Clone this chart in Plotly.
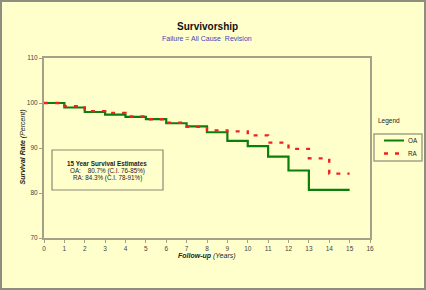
import plotly.graph_objects as go

years = list(range(0, 16))
oa_survival = [100, 99.0, 98.0, 97.4, 96.9, 96.4, 95.5, 94.8, 93.5, 91.6, 90.4, 88.1, 85.0, 80.7, 80.7, 80.7]
ra_survival = [100, 99.3, 98.2, 97.8, 97.0, 96.4, 95.6, 94.7, 93.9, 93.7, 92.8, 91.2, 89.8, 87.7, 84.3, 84.3]
x_ticks = list(range(0, 17))
y_ticks = [70, 80, 90, 100, 110]

BG = "#FFFFCC"
AXC = "#A3A288"
FONT = "Liberation Sans, Arial, sans-serif"
GREEN = "#0A7F0A"
RED = "#EE2222"

fig = go.Figure()
fig.add_trace(go.Scatter(x=years, y=oa_survival, mode="lines", name="OA",
                         line=dict(color=GREEN, width=2.2, shape="hv"), showlegend=False))
fig.add_trace(go.Scatter(x=years, y=ra_survival, mode="lines", name="RA",
                         line=dict(color=RED, width=2.4, shape="hv", dash="4px,7px"), showlegend=False))

W, H = 426, 290
L, R, T, B = 44, 56, 58, 52
pw, ph = W - L - R, H - T - B

def px(xp):
    return (xp - L) / pw

def py(yp):
    return (H - B - yp) / ph

fig.update_layout(
    width=W, height=H,
    margin=dict(l=L, r=R, t=T, b=B),
    paper_bgcolor=BG, plot_bgcolor=BG,
    font=dict(family=FONT, size=7, color="#333333"),
    xaxis=dict(range=[0, 16], tickvals=x_ticks, ticktext=[str(v) for v in x_ticks],
               showgrid=False, zeroline=False, showline=True, linecolor=AXC, linewidth=2,
               mirror=True, ticks="outside", ticklen=3, tickcolor=AXC,
               tickfont=dict(size=6.5, color="#444444")),
    yaxis=dict(range=[70, 110], tickvals=y_ticks, ticktext=[str(v) for v in y_ticks],
               showgrid=False, zeroline=False, showline=True, linecolor=AXC, linewidth=2,
               mirror=True, ticks="outside", ticklen=3, tickcolor=AXC,
               tickfont=dict(size=6.5, color="#444444")),
)

shapes = [
    # outer frame
    dict(type="rect", xref="paper", yref="paper", x0=px(1), x1=px(425), y0=py(289), y1=py(1),
         line=dict(color="#8E8E7E", width=2), layer="below"),
    # estimates box
    dict(type="rect", xref="paper", yref="paper", x0=px(52), x1=px(163), y0=py(190), y1=py(150),
         line=dict(color="#8A8A70", width=1.2)),
    # legend box
    dict(type="rect", xref="paper", yref="paper", x0=px(374), x1=px(422), y0=py(161), y1=py(134),
         line=dict(color="#A3A288", width=1.5)),
    dict(type="line", xref="paper", yref="paper", x0=px(384), x1=px(404), y0=py(140.5), y1=py(140.5),
         line=dict(color=GREEN, width=2)),
    dict(type="line", xref="paper", yref="paper", x0=px(384), x1=px(404), y0=py(153.5), y1=py(153.5),
         line=dict(color=RED, width=2.4, dash="4px,7px")),
]
fig.update_layout(shapes=shapes)

def ann(text, x, y, size, color="#222222", xanchor="center", **kw):
    fig.add_annotation(text=text, xref="paper", yref="paper", x=x, y=y, showarrow=False,
                       xanchor=xanchor, yanchor="middle", font=dict(size=size, color=color, family=FONT), **kw)

ann("<b>Survivorship</b>", px(207), py(27), 10, color="#111111")
ann("Failure = All Cause\u00a0\u00a0Revision", px(207), py(38.7), 7, color="#4343B8")
ann("<b><i>Follow-up</i></b> <i>(Years)</i>", px(207), py(256), 7, color="#222222")
ann("<b><i>Survival Rate</i></b> <i>(Percent)</i>", px(22.5), py(147), 7, color="#222222", textangle=-90)
ann("<b>15 Year Survival Estimates</b>", px(107), py(163.7), 6.3)
ann("OA:\u00a0\u00a0\u00a0\u00a080.7% (C.I. 76-85%)", px(107.5), py(171), 6.3)
ann("RA: 84.3% (C.I. 78-91%)", px(107), py(178.3), 6.3)
ann("Legend", px(375.5), py(121.3), 6.5, xanchor="left")
ann("OA", px(406.5), py(140.5), 6.3, xanchor="left")
ann("RA", px(406.5), py(153.5), 6.3, xanchor="left")

fig.write_html("out.html", config={"displayModeBar": False},
               post_script="document.body.style.margin='0';document.body.style.overflow='hidden';")
